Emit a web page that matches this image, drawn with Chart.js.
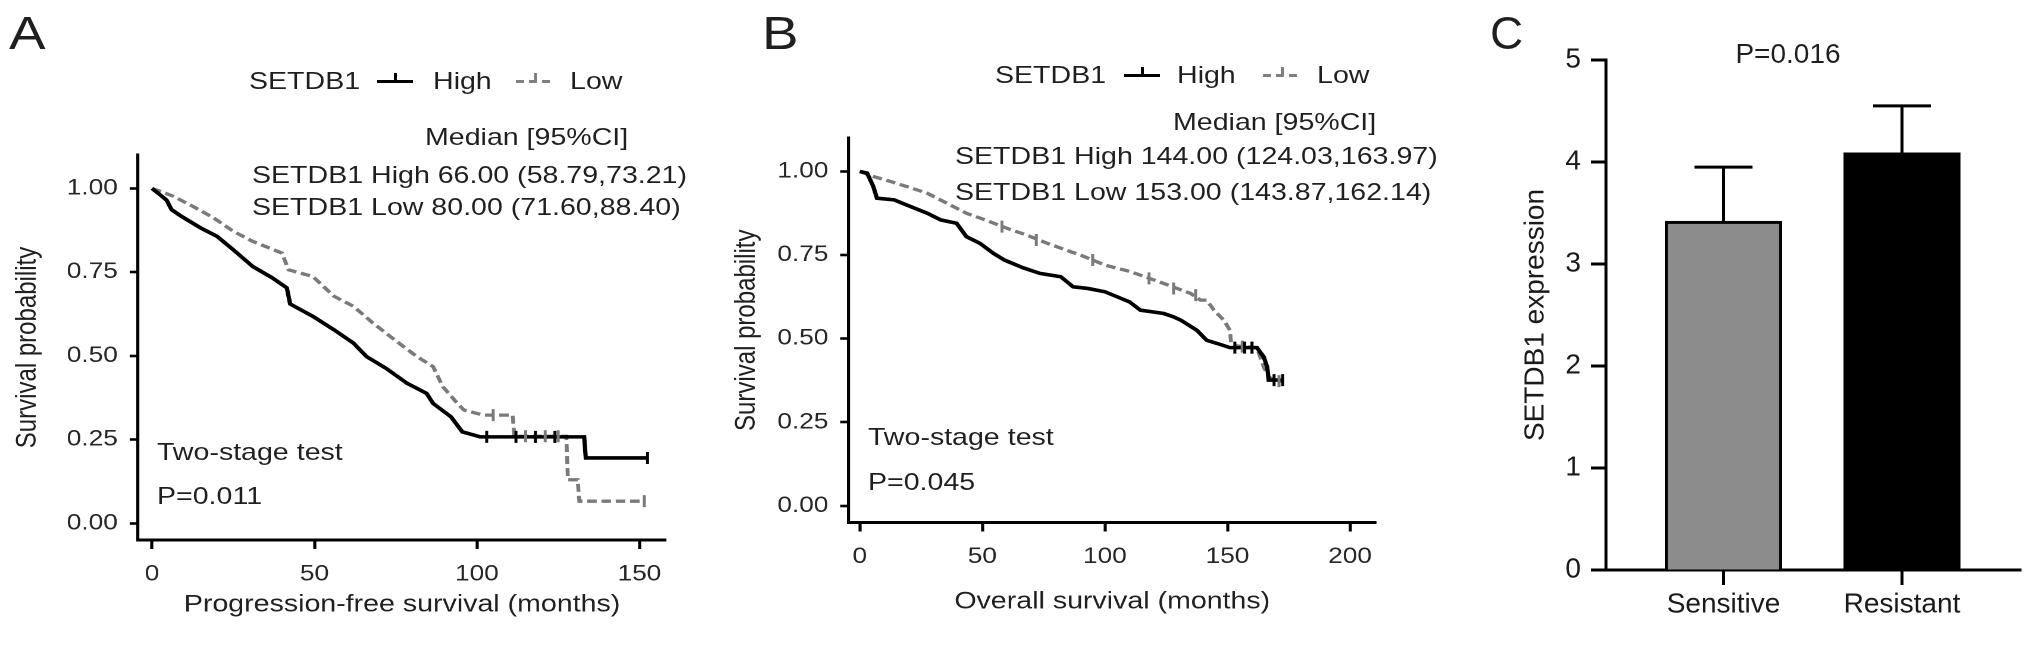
<!DOCTYPE html>
<html>
<head>
<meta charset="utf-8">
<script src="https://cdn.jsdelivr.net/npm/chart.js@4.4.1/dist/chart.umd.min.js"></script>
<style>
html, body { margin: 0; padding: 0; background: #fff; }
#fig { position: relative; width: 2032px; height: 647px; overflow: hidden;
       font-family: "Liberation Sans", Arial, sans-serif; color: #1f1f1f; }
.box { position: absolute; top: 0; height: 647px; }
.wide { transform: scaleX(1.19); transform-origin: 0 0; }
.t { position: absolute; white-space: nowrap; font-size: 24px; line-height: 24px; }
.s { transform: scaleX(1.19); transform-origin: 0 50%; }
.lbl { position: absolute; font-size: 46px; line-height: 46px; }
.sym { position: absolute; height: 3px; }
.tick { position: absolute; width: 2.5px; height: 8px; }
</style>
</head>
<body>
<div id="fig">
  <div class="box wide" style="left:0;width:588px"><canvas id="chartA"></canvas></div>
  <div class="box wide" style="left:700px;width:630px"><canvas id="chartB"></canvas></div>
  <div class="box" style="left:1450px;width:582px"><canvas id="chartC"></canvas></div>

  <div class="lbl s" style="left:9px;top:10px">A</div>
  <div class="lbl s" style="left:762px;top:10px">B</div>
  <div class="lbl" style="left:1490px;top:10px">C</div>

  <!-- panel A legend and notes -->
  <div class="t s" style="left:249px;top:69px">SETDB1</div>
  <div class="sym" style="left:377px;top:79.5px;width:36px;background:#000"></div>
  <div class="tick" style="left:394px;top:73px;background:#000"></div>
  <div class="t s" style="left:433px;top:69px">High</div>
  <div class="sym" style="left:516px;top:79.5px;width:37px;background:repeating-linear-gradient(90deg,#808080 0 8px,transparent 8px 13px)"></div>
  <div class="tick" style="left:534px;top:73px;background:#808080"></div>
  <div class="t s" style="left:570px;top:69px">Low</div>
  <div class="t s" style="left:425px;top:125px">Median [95%CI]</div>
  <div class="t s" style="left:252px;top:163px">SETDB1 High 66.00 (58.79,73.21)</div>
  <div class="t s" style="left:252px;top:195px">SETDB1 Low 80.00 (71.60,88.40)</div>
  <div class="t s" style="left:157px;top:440px">Two-stage test</div>
  <div class="t s" style="left:157px;top:484px">P=0.011</div>

  <!-- panel B legend and notes -->
  <div class="t s" style="left:995px;top:63px">SETDB1</div>
  <div class="sym" style="left:1124px;top:73.5px;width:36px;background:#000"></div>
  <div class="tick" style="left:1141px;top:67px;background:#000"></div>
  <div class="t s" style="left:1177px;top:63px">High</div>
  <div class="sym" style="left:1263px;top:73.5px;width:37px;background:repeating-linear-gradient(90deg,#808080 0 8px,transparent 8px 13px)"></div>
  <div class="tick" style="left:1281px;top:67px;background:#808080"></div>
  <div class="t s" style="left:1317px;top:63px">Low</div>
  <div class="t s" style="left:1173px;top:110px">Median [95%CI]</div>
  <div class="t s" style="left:955px;top:144px">SETDB1 High 144.00 (124.03,163.97)</div>
  <div class="t s" style="left:955px;top:180px">SETDB1 Low 153.00 (143.87,162.14)</div>
  <div class="t s" style="left:868px;top:425px">Two-stage test</div>
  <div class="t s" style="left:868px;top:470px">P=0.045</div>

  <!-- panel C note -->
  <div class="t" style="left:1688px;top:40px;width:200px;text-align:center;font-size:28px;line-height:28px">P=0.016</div>
</div>

<script>
// --- data ---
var kmYTicks = [0, 0.25, 0.5, 0.75, 1];
var pfsTicks = [0, 50, 100, 150];
var osTicks = [0, 50, 100, 150, 200];

// A: progression-free survival
var pfsHighMonths = [0, 2, 4.5, 6, 9, 15, 20, 25, 31, 37, 41.5, 42.5, 49.5, 56, 62, 66, 72, 78.5, 84.5, 86.5, 92, 95.5, 101, 133, 133.5, 152.5];
var pfsHighSurv   = [1.0, 0.985, 0.965, 0.937, 0.917, 0.882, 0.857, 0.817, 0.767, 0.733, 0.703, 0.655, 0.618, 0.578, 0.538, 0.498, 0.463, 0.418, 0.388, 0.358, 0.318, 0.273, 0.258, 0.258, 0.195, 0.195];
var pfsLowMonths  = [0, 3, 6.5, 12.5, 19, 25, 31, 40, 42, 49.5, 56, 62, 68, 76, 81.5, 86.5, 89.5, 94, 96, 102, 111, 111.5, 127.5, 128, 131, 131.5, 151.5];
var pfsLowSurv    = [1.0, 0.99, 0.977, 0.947, 0.912, 0.872, 0.842, 0.807, 0.757, 0.737, 0.678, 0.648, 0.598, 0.538, 0.498, 0.468, 0.408, 0.358, 0.338, 0.323, 0.323, 0.26, 0.26, 0.13, 0.13, 0.066, 0.066];
var pfsHighCensMonths = [103, 112, 118, 124, 152.5];
var pfsHighCensSurv   = [0.258, 0.258, 0.258, 0.258, 0.195];
var pfsLowCensMonths  = [105, 115, 121, 125, 151.5];
var pfsLowCensSurv    = [0.323, 0.26, 0.26, 0.26, 0.066];

// B: overall survival
var osHighMonths = [0, 3, 5.5, 7, 14, 19, 27.5, 33, 39.5, 43.5, 49, 54.5, 59, 66.5, 73.5, 82, 87, 93, 100, 105, 110, 114.5, 124, 128, 131, 137.5, 141.5, 146, 151, 162, 164.8, 166.2, 166.8, 172.5];
var osHighSurv   = [1.0, 0.995, 0.955, 0.92, 0.915, 0.90, 0.875, 0.855, 0.845, 0.805, 0.785, 0.755, 0.735, 0.712, 0.695, 0.685, 0.655, 0.65, 0.64, 0.625, 0.61, 0.585, 0.575, 0.565, 0.555, 0.525, 0.495, 0.485, 0.473, 0.473, 0.445, 0.415, 0.376, 0.376];
var osLowMonths  = [0, 5.5, 12.5, 19, 27.5, 35.5, 43.5, 53, 60, 68, 76.5, 86, 90, 100, 110.5, 124, 135, 139, 141.5, 144.5, 148.5, 151, 151.5, 154, 162, 164.8, 166.8, 169, 173];
var osLowSurv    = [1.0, 0.985, 0.97, 0.955, 0.935, 0.905, 0.875, 0.85, 0.83, 0.81, 0.785, 0.76, 0.75, 0.72, 0.70, 0.665, 0.635, 0.615, 0.615, 0.585, 0.555, 0.525, 0.485, 0.478, 0.473, 0.415, 0.385, 0.376, 0.37];
var osHighCensMonths = [153, 157, 160, 169, 172.5];
var osHighCensSurv   = [0.473, 0.473, 0.473, 0.376, 0.376];
var osLowCensMonths  = [58, 72, 95, 118, 128, 137, 156, 160, 171];
var osLowCensSurv    = [0.835, 0.795, 0.735, 0.68, 0.65, 0.63, 0.476, 0.473, 0.373];

// C: expression
var groups = ['Sensitive', 'Resistant'];
var groupMeans = [3.42, 4.09];
var groupUpper = [3.95, 4.55];
var exprTicks = [0, 1, 2, 3, 4, 5];

var family = "'Liberation Sans', Arial, sans-serif";
Chart.defaults.font.family = family;

function toPoints(xs, ys) {
    return xs.map(function (x, i) { return {x: x, y: ys[i]}; });
}

function kmConfig(o) {
    return {
        type: 'scatter',
        data: {
            datasets: [
                {data: toPoints(o.highT, o.highS), showLine: true, borderColor: '#000', borderWidth: 3.6,
                    pointRadius: 0, order: 1},
                {data: toPoints(o.lowT, o.lowS), showLine: true, borderColor: '#7a7a7a', borderWidth: 3.3,
                    borderDash: [8, 4], pointRadius: 0, order: 2},
                {data: toPoints(o.hcT, o.hcS), showLine: false, pointStyle: 'line', pointRotation: 90,
                    pointRadius: 6, pointBorderWidth: 2.5, pointBorderColor: '#000', order: 0},
                {data: toPoints(o.lcT, o.lcS), showLine: false, pointStyle: 'line', pointRotation: 90,
                    pointRadius: 6, pointBorderWidth: 2.5, pointBorderColor: '#7a7a7a', order: 0}
            ]
        },
        options: {
            responsive: true, maintainAspectRatio: false, animation: false, devicePixelRatio: 2,
            layout: {padding: {left: 0, right: o.padRight, top: o.padTop, bottom: 0}},
            plugins: {legend: {display: false}, tooltip: {enabled: false}},
            scales: {
                x: {
                    type: 'linear', min: o.xMin, max: o.xMax,
                    afterBuildTicks: function (s) { s.ticks = o.xTicks.map(function (v) { return {value: v}; }); },
                    afterFit: function (s) { s.height = o.xHeight; },
                    grid: {drawOnChartArea: false, drawTicks: true, tickLength: 9, tickWidth: 2.6, tickColor: '#000'},
                    border: {display: true, color: '#000', width: 3},
                    ticks: {color: '#262626', font: {size: 22}, padding: 12, maxRotation: 0, autoSkip: false},
                    title: {display: true, text: o.xTitle, color: '#1f1f1f', font: {size: 24},
                        padding: {top: 0, bottom: o.xTitlePad}}
                },
                y: {
                    min: -0.05, max: 1.1,
                    afterBuildTicks: function (s) { s.ticks = kmYTicks.map(function (v) { return {value: v}; }); },
                    afterFit: function (s) { s.width = o.yWidth; },
                    grid: {drawOnChartArea: false, drawTicks: true, tickLength: 7, tickWidth: 2.6, tickColor: '#000'},
                    border: {display: true, color: '#000', width: 2.6},
                    ticks: {color: '#262626', font: {size: 22}, padding: 10,
                        callback: function (v) { return Number(v).toFixed(2); }},
                    title: {display: true, text: 'Survival probability', color: '#1f1f1f', font: {size: 24},
                        padding: {top: o.yTitlePad, bottom: 0}}
                }
            }
        }
    };
}

new Chart(document.getElementById('chartA'), kmConfig({
    highT: pfsHighMonths, highS: pfsHighSurv, lowT: pfsLowMonths, lowS: pfsLowSurv,
    hcT: pfsHighCensMonths, hcS: pfsHighCensSurv, lcT: pfsLowCensMonths, lcS: pfsLowCensSurv,
    xMin: -4.3, xMax: 158.2, xTicks: pfsTicks, xTitle: 'Progression-free survival (months)',
    padRight: 28.3, padTop: 155, xHeight: 107, yWidth: 116, yTitlePad: 9, xTitlePad: 27.6
}));

new Chart(document.getElementById('chartB'), kmConfig({
    highT: osHighMonths, highS: osHighSurv, lowT: osLowMonths, lowS: osLowSurv,
    hcT: osHighCensMonths, hcS: osHighCensSurv, lcT: osLowCensMonths, lcS: osLowCensSurv,
    xMin: -4.6, xMax: 210.6, xTicks: osTicks, xTitle: 'Overall survival (months)',
    padRight: 61.9, padTop: 138, xHeight: 124.5, yWidth: 124.8, yTitlePad: 25, xTitlePad: 30.6
}));

// error bars, x tick marks under the bars, and the x-axis stub left of the y axis
var errorBars = {
    id: 'errorBars',
    afterDatasetsDraw: function (chart) {
        var ctx = chart.ctx;
        var xScale = chart.scales.x;
        var yScale = chart.scales.y;
        var meta = chart.getDatasetMeta(0);
        var a = chart.chartArea;
        ctx.save();
        ctx.strokeStyle = '#000';
        ctx.lineWidth = 3;
        meta.data.forEach(function (bar, i) {
            var top = yScale.getPixelForValue(groupUpper[i]);
            ctx.beginPath();
            ctx.moveTo(bar.x, bar.y);
            ctx.lineTo(bar.x, top);
            ctx.moveTo(bar.x - 29, top);
            ctx.lineTo(bar.x + 29, top);
            ctx.stroke();
        });
        groups.forEach(function (g, i) {
            var px = xScale.getPixelForValue(i + 1);
            ctx.beginPath();
            ctx.moveTo(px, a.bottom);
            ctx.lineTo(px, a.bottom + 15);
            ctx.stroke();
        });
        ctx.beginPath();
        ctx.moveTo(a.left - 15, a.bottom);
        ctx.lineTo(a.left, a.bottom);
        ctx.stroke();
        ctx.restore();
    }
};

new Chart(document.getElementById('chartC'), {
    type: 'bar',
    data: {
        datasets: [{
            data: groupMeans.map(function (v, i) { return {x: i + 1, y: v}; }),
            backgroundColor: ['#8c8c8c', '#000'],
            borderColor: '#000',
            borderWidth: 3,
            barThickness: 116.5
        }]
    },
    options: {
        responsive: true, maintainAspectRatio: false, animation: false, devicePixelRatio: 2,
        layout: {padding: {left: 0, right: 11, top: 60, bottom: 0}},
        plugins: {legend: {display: false}, tooltip: {enabled: false}},
        scales: {
            x: {
                type: 'linear', min: 0.3417, max: 2.6667, offset: false,
                afterBuildTicks: function (s) { s.ticks = groups.map(function (g, i) { return {value: i + 1}; }); },
                afterFit: function (s) { s.height = 77; },
                grid: {offset: false, drawOnChartArea: false, drawTicks: true, tickLength: 15, tickWidth: 0,
                    tickColor: 'rgba(0,0,0,0)'},
                border: {display: true, color: '#000', width: 3},
                ticks: {color: '#1a1a1a', font: {size: 28}, padding: 3, maxRotation: 0, autoSkip: false,
                    callback: function (v) { return groups[v - 1]; }}
            },
            y: {
                min: 0, max: 5,
                afterBuildTicks: function (s) { s.ticks = exprTicks.map(function (v) { return {value: v}; }); },
                afterFit: function (s) { s.width = 156; },
                grid: {drawOnChartArea: false, drawTicks: true, tickLength: 15, tickWidth: 3, tickColor: '#000'},
                border: {display: true, color: '#000', width: 3},
                ticks: {color: '#1a1a1a', font: {size: 28}, padding: 10},
                title: {display: true, text: 'SETDB1 expression', color: '#1a1a1a', font: {size: 28},
                    padding: {top: 68.8, bottom: 0}}
            }
        }
    },
    plugins: [errorBars]
});
</script>
</body>
</html>
